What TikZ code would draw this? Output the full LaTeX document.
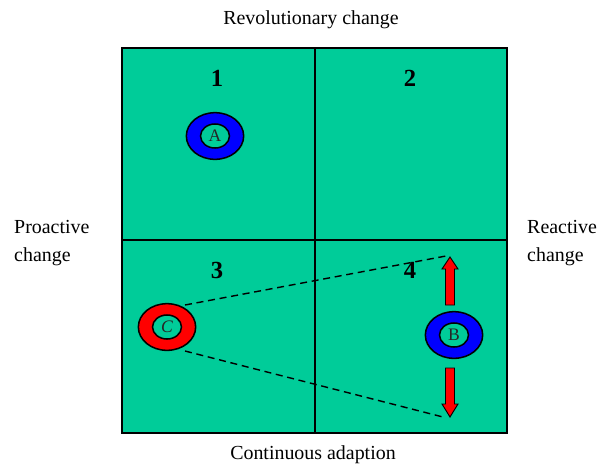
\documentclass[tikz,border=0pt]{standalone}
\usepackage{fontspec}
\setmainfont{Liberation Serif}
\usetikzlibrary{shapes.geometric}
\definecolor{quadgreen}{RGB}{0,204,153}
\definecolor{ringblue}{RGB}{0,0,255}
\definecolor{ringred}{RGB}{255,0,0}

\begin{document}
\begin{tikzpicture}[x=0.03cm,y=-0.03cm,
  every node/.style={font=\fontsize{17}{24}\selectfont},
  quadnum/.style={font=\fontsize{21}{24}\selectfont\bfseries},
  ringout/.style={ellipse,draw,line width=1.3pt,minimum width=1.72cm,minimum height=1.4cm,inner sep=0pt},
  ringin/.style={ellipse,draw,fill=quadgreen,line width=1.3pt,minimum width=0.87cm,minimum height=0.72cm,inner sep=0pt,font=\fontsize{15}{16}\selectfont,text=black!85},
  hint/.style={line width=1.2pt,dash pattern=on 6pt off 4pt},
  movearrow/.style={fill=ringred,draw=black,line width=0.8pt}]
\useasboundingbox (0,0) rectangle (610,464);
% quadrants
\fill[quadgreen] (122,48) rectangle (507,433);
\draw[line width=1.6pt] (122,48) rectangle (507,433);
\draw[line width=1.6pt] (315,48) -- (315,433);
\draw[line width=1.6pt] (122,240) -- (507,240);
% axis labels
\node (top) at (311,20) {Revolutionary change};
\node (bottom) at (313,455) {Continuous adaption};
\node[align=left,anchor=west,inner sep=0pt] (left) at (14,243) {Proactive\\change};
\node[align=left,anchor=west,inner sep=0pt] (right) at (527,243) {Reactive\\change};
% quadrant numbers
\node[quadnum] (q1) at (217,78) {1};
\node[quadnum] (q2) at (410,78) {2};
\node[quadnum] (q3) at (217,270) {3};
\node[quadnum] (q4) at (410,270) {4};
% rings
\node[ringout,fill=ringblue] (ringA) at (215,136) {};
\node[ringin] (innerA) at (ringA) {A};
\node[ringout,fill=ringred] (ringC) at (167,327) {};
\node[ringin] (innerC) at (ringC) {\textit{C}};
\node[ringout,fill=ringblue] (ringB) at (454,335) {};
\node[ringin] (innerB) at (ringB) {B};
% range of C
\coordinate (cTop) at (185,305);
\coordinate (cBot) at (185,351);
\coordinate (tipUp) at (446,256);
\coordinate (tipDown) at (443,417);
\draw[hint] (cTop) -- (tipUp);
\draw[hint] (cBot) -- (tipDown);
% moves of B
\filldraw[movearrow] (445.5,305) -- (445.5,269) -- (442,269) -- (450,257) -- (458,269) -- (454.5,269) -- (454.5,305) -- cycle;
\filldraw[movearrow] (445.5,368) -- (445.5,404) -- (442,404) -- (450,417) -- (458,404) -- (454.5,404) -- (454.5,368) -- cycle;
\end{tikzpicture}
\end{document}
